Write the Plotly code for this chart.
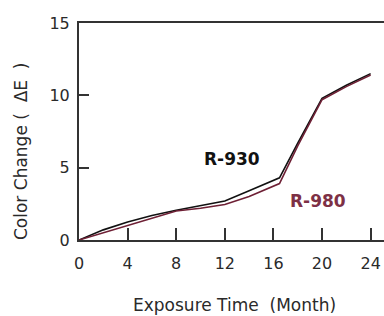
import plotly.graph_objects as go

months_930 = [0, 2, 4, 6, 8, 10, 12, 14, 16, 16.5, 18, 20, 22, 24]
r930 = [0, 0.7, 1.25, 1.7, 2.05, 2.35, 2.7, 3.4, 4.1, 4.3, 6.7, 9.8, 10.7, 11.5]
months_980 = [0, 2, 4, 6, 8, 10, 12, 14, 16, 16.5, 18, 20, 22, 24]
r980 = [0, 0.5, 0.95, 1.5, 2.0, 2.2, 2.45, 3.0, 3.7, 3.9, 6.5, 9.7, 10.6, 11.4]
x_ticks = [0, 4, 8, 12, 16, 20, 24]
y_ticks = [0, 5, 10, 15]

font = "DejaVu Sans, Liberation Sans, sans-serif"
axis_col = "#333333"
txt_col = "#2a2a2a"

fig = go.Figure()
fig.add_trace(go.Scatter(x=months_930, y=r930, mode="lines",
                         line=dict(color="#111111", width=1.6), name="R-930"))
fig.add_trace(go.Scatter(x=months_980, y=r980, mode="lines",
                         line=dict(color="#6e2035", width=1.6), name="R-980"))

fig.add_annotation(x=12.55, y=5.6, text="<b>R-930</b>", showarrow=False,
                   font=dict(family=font, size=17, color="#111111"))
fig.add_annotation(x=19.7, y=2.7, text="<b>R-980</b>", showarrow=False,
                   font=dict(family=font, size=17, color="#7d3045"))

# axis titles
fig.add_annotation(xref="paper", yref="paper", x=0, y=0.41, xshift=-58,
                   text="Color Change (  ΔE  )", textangle=-90, showarrow=False,
                   xanchor="center", yanchor="middle",
                   font=dict(family=font, size=17, color=txt_col))
fig.add_annotation(xref="paper", yref="paper", x=0.51, y=0, yshift=-65,
                   text="Exposure Time  (Month)", showarrow=False,
                   xanchor="center", yanchor="middle",
                   font=dict(family=font, size=17, color=txt_col))

fig.update_layout(
    width=384, height=316,
    margin=dict(l=79, r=0, t=23, b=76),
    paper_bgcolor="white", plot_bgcolor="white",
    showlegend=False,
    font=dict(family=font, size=16, color=txt_col),
    xaxis=dict(range=[0, 25.1], tickvals=x_ticks, ticks="inside", ticklen=12,
               tickwidth=1.5, tickcolor=axis_col, showline=True, linecolor=axis_col,
               linewidth=2, mirror=True, showgrid=False, zeroline=False,
               ticklabelstandoff=8, automargin=False),
    yaxis=dict(range=[0, 15], tickvals=y_ticks, ticks="inside", ticklen=10,
               tickwidth=1.5, tickcolor=axis_col, showline=True, linecolor=axis_col,
               linewidth=2, showgrid=False, zeroline=False,
               ticklabelstandoff=4, automargin=False),
)

fig.write_html("out.html", config={"displayModeBar": False},
               post_script="document.body.style.margin='0';document.body.style.overflow='hidden';")
